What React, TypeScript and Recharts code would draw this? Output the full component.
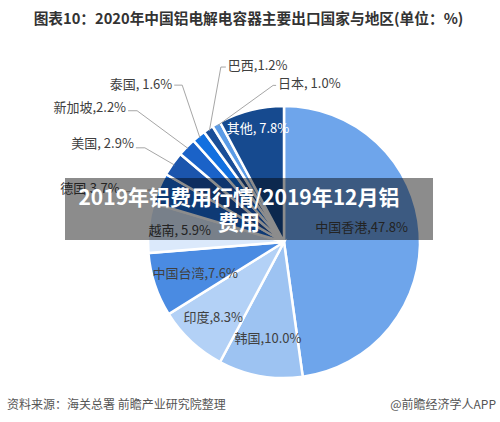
import { PieChart, Pie, Cell } from 'recharts';

const names = ['中国香港', '韩国', '印度', '中国台湾', '越南', '德国', '美国', '新加坡', '泰国', '巴西', '日本', '其他'];
const shares = [47.8, 10.0, 8.3, 7.6, 5.9, 3.7, 2.9, 2.2, 1.6, 1.2, 1.0, 7.8];
const labelTexts = [
  '中国香港,47.8%', '韩国,10.0%', '印度,8.3%', '中国台湾,7.6%', '越南, 5.9%', '德国,3.7%',
  '美国, 2.9%', '新加坡,2.2%', '泰国, 1.6%', '巴西,1.2%', '日本, 1.0%', '其他, 7.8%',
];
const COLORS = ['#6ea5eb', '#9dc3f2', '#b3d1f6', '#4a8be2', '#dbe9fb', '#1a6ad6', '#1b55ad', '#1a62c8', '#1270e0', '#1a4e98', '#5a9be6', '#164a8f'];

// label placement: inside labels -> radius + angle shift (deg, clockwise);
// outside labels -> elbow radius + angle shift, horizontal run, text offset
type LabelCfg =
  | { kind: 'in'; r: number; da: number; color?: string }
  | { kind: 'out'; r: number; da: number; run: number; dy: number };

const LABEL_CFG: LabelCfg[] = [
  { kind: 'in', r: 79, da: -7 },
  { kind: 'in', r: 97, da: -0.6 },
  { kind: 'in', r: 103, da: 0.4 },
  { kind: 'in', r: 94, da: -0.8 },
  { kind: 'in', r: 105, da: 0.7 },
  { kind: 'out', r: 166, da: -5.6, run: -4, dy: -4 },
  { kind: 'out', r: 168, da: -1.0, run: -9, dy: -5 },
  { kind: 'out', r: 197, da: -2.5, run: -9, dy: -4 },
  { kind: 'out', r: 187, da: 5.9, run: -8, dy: -2 },
  { kind: 'out', r: 186, da: 14, run: 5, dy: -3 },
  { kind: 'out', r: 157, da: 25.9, run: 3, dy: -3 },
  { kind: 'in', r: 117, da: 1.2, color: '#ffffff' },
];

const data = names.map((name, i) => ({ name, value: shares[i] }));

const FONT = '"Noto Sans CJK SC", "Noto Sans", sans-serif';
const RAD = Math.PI / 180;

function pt(cx: number, cy: number, r: number, mathDeg: number) {
  return { x: cx + r * Math.cos(mathDeg * RAD), y: cy - r * Math.sin(mathDeg * RAD) };
}

function renderLabel(props: any) {
  const { cx, cy, midAngle, outerRadius, index } = props;
  const cfg = LABEL_CFG[index];
  const text = labelTexts[index];
  // da is clockwise, recharts angles are counter-clockwise
  const a = midAngle - cfg.da;
  if (cfg.kind === 'in') {
    const p = pt(cx, cy, cfg.r, a);
    return (
      <text key={index} x={p.x} y={p.y} textAnchor="middle" dominantBaseline="central"
        fill={cfg.color ?? '#404040'} fontSize={13} fontFamily={FONT}>
        {text}
      </text>
    );
  }
  const s = pt(cx, cy, outerRadius - 2, midAngle);
  const e = pt(cx, cy, cfg.r, a);
  const endX = e.x + cfg.run;
  const left = cfg.run < 0;
  return (
    <g key={index}>
      <polyline points={`${s.x},${s.y} ${e.x},${e.y} ${endX},${e.y}`} fill="none" stroke="#a6a6a6" strokeWidth={1} />
      <text x={left ? endX - 2 : endX + 2} y={e.y + cfg.dy} textAnchor={left ? 'end' : 'start'}
        dominantBaseline="central" fill="#404040" fontSize={13} fontFamily={FONT}>
        {text}
      </text>
    </g>
  );
}

export default function App() {
  return (
    <div style={{ position: 'fixed', left: 0, top: 0, width: 500, height: 422, background: '#fff', fontFamily: FONT, overflow: 'hidden' }}>
      <div style={{ position: 'absolute', left: 0, top: 8, width: 497, textAlign: 'center', fontSize: 14.7, fontWeight: 'bold', color: '#333', lineHeight: '20px' }}>
        图表10：2020年中国铝电解电容器主要出口国家与地区(单位：%)
      </div>
      <div style={{ position: 'absolute', left: 0, top: 0 }}>
        <PieChart width={500} height={422} margin={{ top: 0, right: 0, bottom: 0, left: 0 }}>
          <Pie
            data={data}
            dataKey="value"
            nameKey="name"
            cx={284}
            cy={242}
            outerRadius={136}
            startAngle={90}
            endAngle={-270}
            stroke="#ffffff"
            strokeWidth={2.5}
            label={renderLabel}
            labelLine={false}
            isAnimationActive={false}
          >
            {data.map((_, i) => (
              <Cell key={i} fill={COLORS[i]} />
            ))}
          </Pie>
        </PieChart>
      </div>
      <div style={{ position: 'absolute', left: 65, top: 178, width: 368, height: 62, background: 'rgba(0,0,0,0.45)' }}>
        <div style={{ width: 348, textAlign: 'center', color: '#fff', fontWeight: 'bold', fontSize: 21, lineHeight: '25px', paddingTop: 6 }}>
          2019年铝费用行情/2019年12月铝<br />费用
        </div>
      </div>
      <div style={{ position: 'absolute', left: 7, top: 396, fontSize: 12, color: '#555', lineHeight: '16px' }}>
        资料来源：海关总署 前瞻产业研究院整理
      </div>
      <div style={{ position: 'absolute', right: 4, top: 396, fontSize: 12, color: '#555', lineHeight: '16px' }}>
        @前瞻经济学人APP
      </div>
    </div>
  );
}
